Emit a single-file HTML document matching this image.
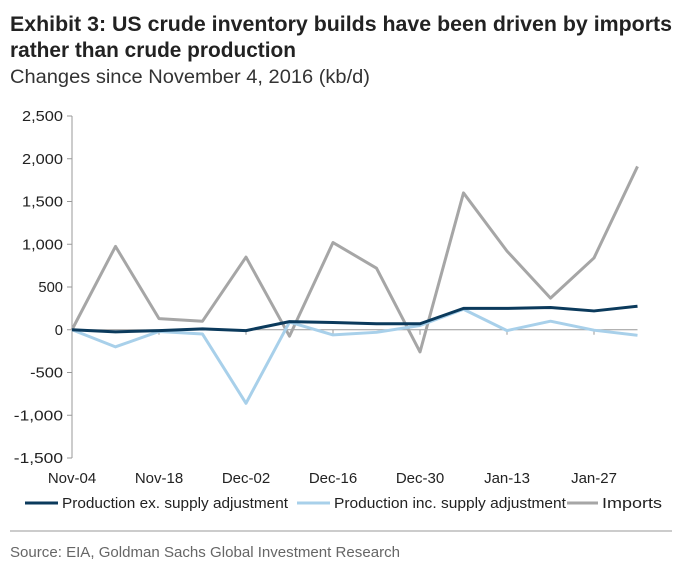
<!DOCTYPE html>
<html><head><meta charset="utf-8"><style>
body{margin:0;background:#fff;width:680px;height:576px;overflow:hidden}
svg{display:block;font-family:"Liberation Sans",sans-serif}
</style></head><body>
<svg id="chart" width="680" height="576">
<text x="10" y="31" font-size="21" font-weight="bold" fill="#222" textLength="662" lengthAdjust="spacingAndGlyphs">Exhibit 3: US crude inventory builds have been driven by imports</text>
<text x="10" y="57" font-size="21" font-weight="bold" fill="#222" textLength="286" lengthAdjust="spacingAndGlyphs">rather than crude production</text>
<text x="10" y="83" font-size="19" fill="#333" textLength="360" lengthAdjust="spacingAndGlyphs">Changes since November 4, 2016 (kb/d)</text>
<g id="axes"></g>
<g id="series"></g>
<g id="legend">
<line x1="25" y1="503" x2="58" y2="503" stroke="#0b3a5c" stroke-width="3"/>
<text x="62" y="508" font-size="15" fill="#222" textLength="226" lengthAdjust="spacingAndGlyphs">Production ex. supply adjustment</text>
<line x1="297" y1="503" x2="330" y2="503" stroke="#a8d0ea" stroke-width="3"/>
<text x="334" y="508" font-size="15" fill="#222" textLength="232" lengthAdjust="spacingAndGlyphs">Production inc. supply adjustment</text>
<line x1="567" y1="503" x2="598" y2="503" stroke="#a6a6a6" stroke-width="3"/>
<text x="602" y="508" font-size="15" fill="#222" textLength="60" lengthAdjust="spacingAndGlyphs">Imports</text>
</g>
<line x1="10" y1="531" x2="672" y2="531" stroke="#999" stroke-width="1"/>
<text x="10" y="557" font-size="15" fill="#666" textLength="390" lengthAdjust="spacingAndGlyphs">Source: EIA, Goldman Sachs Global Investment Research</text>
</svg>
<script>
const categories=["Nov-04","Nov-11","Nov-18","Nov-25","Dec-02","Dec-09","Dec-16","Dec-23","Dec-30","Jan-06","Jan-13","Jan-20","Jan-27","Feb-03"];
const imports=[0,975,130,100,850,-75,1020,720,-260,1600,920,370,840,1910];
const prodEx=[0,-25,-10,10,-10,95,85,70,70,250,250,260,220,275];
const prodInc=[0,-200,-20,-50,-860,90,-60,-30,50,240,-10,100,-5,-65];
const yTicks=[2500,2000,1500,1000,500,0,-500,-1000,-1500];
const NS="http://www.w3.org/2000/svg";
const x0=72,step=43.5,yTop=116,yBot=458,vMax=2500,vMin=-1500;
const xs=i=>x0+i*step;
const ys=v=>yTop+(vMax-v)/(vMax-vMin)*(yBot-yTop);
const axes=document.getElementById('axes'),ser=document.getElementById('series');
function mk(t,a,p){const e=document.createElementNS(NS,t);for(const k in a)e.setAttribute(k,a[k]);p.appendChild(e);return e;}
let ya=mk('line',{x1:x0,y1:yTop,x2:x0,y2:yBot,stroke:'#999'},axes);


yTicks.forEach(v=>{
  mk('line',{x1:x0-5,y1:ys(v),x2:x0,y2:ys(v),stroke:'#999'},axes);
  const s=v.toLocaleString('en-US');
  const t=mk('text',{x:x0-9,y:ys(v)+5,'font-size':15,'text-anchor':'end',fill:'#222',textLength:s.length*8.2,lengthAdjust:'spacingAndGlyphs'},axes);
  t.textContent=s;
  
  
});
let xa=mk('line',{x1:x0,y1:ys(0),x2:xs(categories.length-1),y2:ys(0),stroke:'#999'},axes);


categories.forEach((c,i)=>{
  if(i%2)return;
  mk('line',{x1:xs(i),y1:ys(0),x2:xs(i),y2:ys(0)+5,stroke:'#999'},axes);
  const t=mk('text',{x:xs(i),y:483,'font-size':15,'text-anchor':'middle',fill:'#222'},axes);
  t.textContent=c;
  
  
});
function line(data,color,name){
  const p=mk('polyline',{points:data.map((v,i)=>xs(i)+','+ys(v)).join(' '),fill:'none',stroke:color,'stroke-width':3,'stroke-linejoin':'round'},ser);
  
  
}
line(imports,'#a6a6a6','imports-line');
line(prodInc,'#a8d0ea','production-inc-line');
line(prodEx,'#0b3a5c','production-ex-line');
</script>
</body></html>
